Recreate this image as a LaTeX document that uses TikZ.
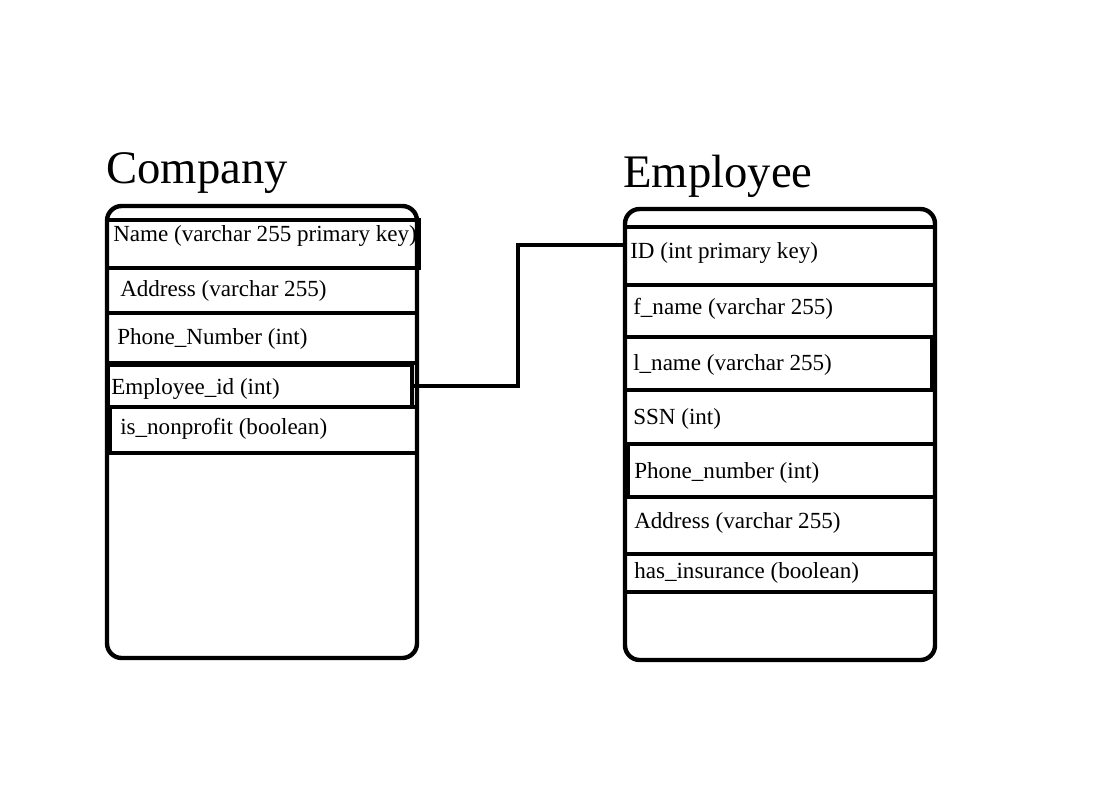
\documentclass[tikz,border=0pt]{standalone}
\usepackage{fontspec}
\setmainfont{Liberation Serif}
\usetikzlibrary{fit}
\begin{document}
\begin{tikzpicture}[x=0.75pt,y=-0.75pt,
  tbl/.style={draw,line width=3.3pt,rounded corners=11pt,inner sep=0pt},
  row/.style={draw,line width=3.3pt,inner sep=0pt},
  link/.style={draw,line width=3.3pt},
  fld/.style={anchor=base west,inner sep=0pt,font=\fontsize{17.3}{20}\selectfont},
  ttl/.style={anchor=base west,inner sep=0pt,font=\fontsize{35}{40}\selectfont}]
\useasboundingbox (0,0) rectangle (1096,806);
\fill[white] (0,0) rectangle (1096,806);

% Company table
\node[ttl] (ctitle) at (106,184) {Company};
\node[tbl,fit={(107,206) (417,658)}] (company) {};
\node[row,fit={(107,220) (419,268)}] (cname) {};
\node[row,fit={(107,268) (417,313)}] (caddr) {};
\node[row,fit={(107,313) (417,363)}] (cphone) {};
\node[row,fit={(108,365) (412,407)}] (cempid) {};
\node[row,fit={(110,407) (417,453)}] (cnonp) {};
\node[fld] (tcname) at (113,242) {Name (varchar 255 primary key)};
\node[fld] (tcaddr) at (120,296) {Address (varchar 255)};
\node[fld] (tcphone) at (117,344) {Phone\_Number (int)};
\node[fld] (tcempid) at (111,394) {Employee\_id (int)};
\node[fld] (tcnonp) at (120,434) {is\_nonprofit (boolean)};

% Employee table
\node[ttl] (etitle) at (623,188) {Employee};
\node[tbl,fit={(625,209) (935,660)}] (employee) {};
\node[row,fit={(625,227) (935,285)}] (eid) {};
\node[row,fit={(625,285) (935,337)}] (efname) {};
\node[row,fit={(625,337) (932,390)}] (elname) {};
\node[row,fit={(625,390) (935,444)}] (essn) {};
\node[row,fit={(628,444) (935,497)}] (ephone) {};
\node[row,fit={(625,497) (935,554)}] (eaddr) {};
\node[row,fit={(625,554) (935,592)}] (eins) {};
\node[fld] (teid) at (630,258) {ID (int primary key)};
\node[fld] (tefname) at (633,314) {f\_name (varchar 255)};
\node[fld] (telname) at (633,370) {l\_name (varchar 255)};
\node[fld] (tessn) at (633,424) {SSN (int)};
\node[fld] (tephone) at (634,478) {Phone\_number (int)};
\node[fld] (teaddr) at (634,528) {Address (varchar 255)};
\node[fld] (teins) at (634,578) {has\_insurance (boolean)};

% connector
\coordinate (idin) at (625,245);
\draw[link] (cempid.east) -- ++(104,0) |- (idin);
\end{tikzpicture}
\end{document}
